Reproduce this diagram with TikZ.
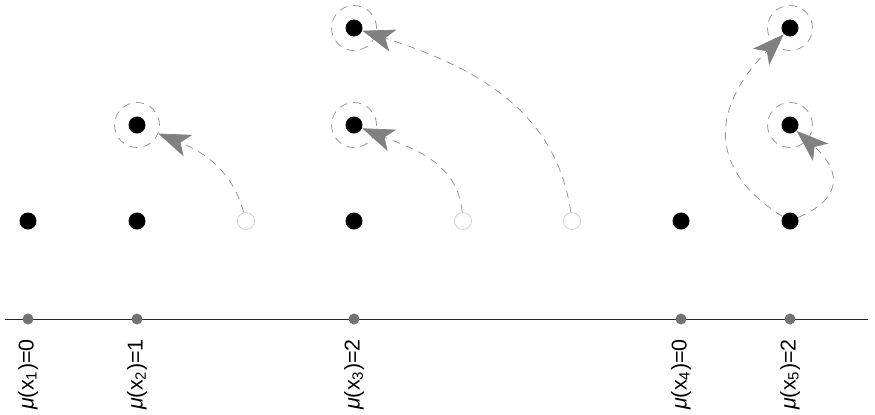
\documentclass[tikz,border=0pt]{standalone}
\usepackage{fontspec}
\setmainfont{Liberation Sans}
\usetikzlibrary{arrows.meta}
\tikzset{move/.style={draw=black!45, dash pattern=on 4.5pt off 3.5pt,
    -{Stealth[length=0.64cm,width=0.46cm,inset=0.16cm,color=black!50]}}}

\begin{document}
\begin{tikzpicture}[
		x=0.02cm, y=-0.02cm,
		dot/.style={circle, fill=black, inner sep=0pt, minimum size=0.34cm},
		gone/.style={circle, draw=black!20, inner sep=0pt, minimum size=0.34cm},
		halo/.style={circle, draw=black!45, dash pattern=on 4.5pt off 3.5pt, inner sep=0pt, minimum size=0.9cm},
		tick dot/.style={circle, fill=black!55, inner sep=0pt, minimum size=0.22cm},
		mu label/.style={rotate=90, anchor=east, inner sep=0pt, font=\fontsize{12.2}{14}\selectfont}
		]    % coordinates are pixels of the 875x414 frame
		\useasboundingbox (0,0) rectangle (875,414);
		% bottom row
		\node[dot] (b1) at (28,221) {};
		\node[dot] (b2) at (137,221) {};
		\node[gone] (b3) at (246,221) {};
		\node[dot] (b4) at (354,221) {};
		\node[gone] (b5) at (463,221) {};
		\node[gone] (b6) at (572,221) {};
		\node[dot] (b7) at (681,221) {};
		\node[dot] (b8) at (790,221) {};
		% moved points
		\node[dot] (m2) at (137,125) {};
		\node[dot] (m4) at (354,125) {};
		\node[dot] (t4) at (354,28) {};
		\node[dot] (m8) at (790,125) {};
		\node[dot] (t8) at (790,28) {};
		\foreach \n in {m2,m4,t4,m8,t8}
			\node[halo] (h\n) at (\n) {};
		% moves
		\draw[move] (b3) to[out=105, in=-22] (hm2);
		\draw[move] (b5) to[out=95, in=-22] (m4);
		\draw[move] (b6) to[out=98, in=-18] (t4);
		\draw[move] (b8) .. controls (700,165) and (718,100) .. (t8);
		\draw[move] (b8) .. controls (850,195) and (835,165) .. (m8);
		% axis
		\coordinate (al) at (5,319);
		\coordinate (ar) at (868,319);
		\draw[black!85] (al) -- (ar);
		\foreach \x/\i/\v in {28/1/0, 137/2/1, 354/3/2, 681/4/0, 790/5/2} {
			\node[tick dot] (a\i) at (\x,319) {};
			\node[mu label] (l\i) at (\x,339) {{\itshape μ}(x\textsubscript{\i})=\v};
		}
	\end{tikzpicture}
\end{document}
